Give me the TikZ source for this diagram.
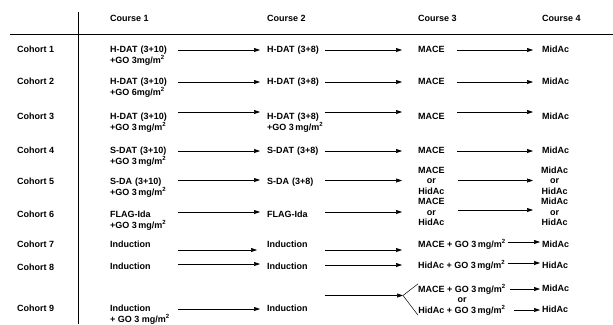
\documentclass[tikz,border=0pt]{standalone}
\usepackage{fontspec}
\setmainfont{Liberation Sans}
\usetikzlibrary{positioning,arrows.meta}

\begin{document}
\begin{tikzpicture}[
        x=1pt, y=-1pt,
        cell/.style={
            font=\bfseries\fontsize{9}{10.5}\selectfont,
            inner sep=0pt,
            anchor=west,
            text height=6.5pt,
            text depth=2pt
        },
        colA/.style={cell, text width=68pt, align=left},
        colB/.style={cell, text width=58pt, align=left},
        colC/.style={cell, text width=39pt, align=left},
        stack/.style={
            font=\bfseries\fontsize{9}{10.5}\selectfont,
            inner sep=0pt,
            anchor=west,
            align=center
        },
        goline/.style={cell, below right=2.5pt and 0pt of #1.south west},
        arr/.style={-{Triangle[length=6pt,width=4pt]}, line width=0.6pt},
        toB/.style={arr, shorten >=7pt},
        toC/.style={arr, shorten >=16pt},
        toD/.style={arr, shorten >=9pt}
    ]
        \useasboundingbox (0,0) rectangle (613,324);

        % table rules
        \draw[line width=0.6pt] (78,12) -- (78,324);
        \draw[line width=0.6pt] (10,34) -- (613,34);

        \node[cell] (t1) at (110,19) {Course 1};
        \node[cell] (t2) at (267,19) {Course 2};
        \node[cell] (t3) at (418,19) {Course 3};
        \node[cell] (t4) at (542,19) {Course 4};

        \node[cell] (h1) at (17,50) {Cohort 1};
        \node[cell] (h2) at (17,82) {Cohort 2};
        \node[cell] (h3) at (17,117) {Cohort 3};
        \node[cell] (h4) at (17,151) {Cohort 4};
        \node[cell] (h5) at (17,182) {Cohort 5};
        \node[cell] (h6) at (17,215) {Cohort 6};
        \node[cell] (h7) at (17,245) {Cohort 7};
        \node[cell] (h8) at (17,268) {Cohort 8};
        \node[cell] (h9) at (17,309) {Cohort 9};

        % course 1
        \node[colA] (a1) at (110,50) {H-DAT (3+10)};
        \node[goline=a1] (ga1) {+GO 3mg/m\textsuperscript{2}};
        \node[colA] (a2) at (110,82) {H-DAT (3+10)};
        \node[goline=a2] (ga2) {+GO 6mg/m\textsuperscript{2}};
        \node[colA] (a3) at (110,117) {H-DAT (3+10)};
        \node[goline=a3] (ga3) {+GO 3\,mg/m\textsuperscript{2}};
        \node[colA] (a4) at (110,151) {S-DAT (3+10)};
        \node[goline=a4] (ga4) {+GO 3\,mg/m\textsuperscript{2}};
        \node[colA] (a5) at (110,182) {S-DA (3+10)};
        \node[goline=a5] (ga5) {+GO 3\,mg/m\textsuperscript{2}};
        \node[colA] (a6) at (110,215) {FLAG-Ida};
        \node[goline=a6] (ga6) {+GO 3\,mg/m\textsuperscript{2}};
        \node[colA] (a7) at (110,245) {Induction};
        \node[colA] (a8) at (110,267) {Induction};
        \node[colA] (a9) at (110,309) {Induction};
        \node[goline=a9] (ga9) {+ GO 3 mg/m\textsuperscript{2}};

        % course 2
        \node[colB] (b1) at (267,50) {H-DAT (3+8)};
        \node[colB] (b2) at (267,82) {H-DAT (3+8)};
        \node[colB] (b3) at (267,117) {H-DAT (3+8)};
        \node[goline=b3] (gb3) {+GO 3\,mg/m\textsuperscript{2}};
        \node[colB] (b4) at (267,151) {S-DAT (3+8)};
        \node[colB] (b5) at (267,182) {S-DA (3+8)};
        \node[colB] (b6) at (267,215) {FLAG-Ida};
        \node[colB] (b7) at (267,245) {Induction};
        \node[colB] (b8) at (267,267) {Induction};
        \node[colB] (b9) at (267,309) {Induction};

        % course 3
        \node[colC] (c1) at (418,50) {MACE};
        \node[colC] (c2) at (418,82) {MACE};
        \node[colC] (c3) at (418,117) {MACE};
        \node[colC] (c4) at (418,151) {MACE};
        \node[stack] (c5) at (418,180.5) {MACE\\or\\HidAc};
        \node[stack] (c6) at (418,212) {MACE\\or\\HidAc};
        \node[cell] (c7) at (418,245) {MACE + GO 3\,mg/m\textsuperscript{2}};
        \node[cell] (c8) at (418,266) {HidAc + GO 3\,mg/m\textsuperscript{2}};
        \node[stack] (c9) at (418,299.5) {MACE + GO 3\,mg/m\textsuperscript{2}\\or\\HidAc + GO 3\,mg/m\textsuperscript{2}};

        % course 4
        \node[cell] (d1) at (542,50) {MidAc};
        \node[cell] (d2) at (542,82) {MidAc};
        \node[cell] (d3) at (542,117) {MidAc};
        \node[cell] (d4) at (542,151) {MidAc};
        \node[stack] (d5) at (541,180.5) {MidAc\\or\\HidAc};
        \node[stack] (d6) at (541,212) {MidAc\\or\\HidAc};
        \node[cell] (d7) at (542,245) {MidAc};
        \node[cell] (d8) at (542,266) {HidAc};
        \node[cell] (d9a) at (542,289) {MidAc};
        \node[cell] (d9b) at (542,310) {HidAc};

        \coordinate (split) at ([xshift=-15pt,yshift=4pt]c9.west);

        \draw[toB] (a1.east) -- (b1.west);
        \draw[toB] (a2.east) -- (b2.west);
        \draw[toB] ([yshift=5pt]a3.east) -- ([yshift=5pt]b3.west);
        \draw[toB] (a4.east) -- (b4.west);
        \draw[toB] ([yshift=2pt]a5.east) -- ([yshift=2pt]b5.west);
        \draw[toB] ([yshift=3pt]a6.east) -- ([yshift=3pt]b6.west);
        \draw[toB, shorten >=10pt] ([yshift=-5pt]a7.east) -- ([yshift=-5pt]b7.west);
        \draw[toB] ([yshift=3pt]a8.east) -- ([yshift=3pt]b8.west);
        \draw[toB] (a9.east) -- (b9.west);

        \draw[toC] (b1.east) -- (c1.west);
        \draw[toC] (b2.east) -- (c2.west);
        \draw[toC] ([yshift=5pt]b3.east) -- ([yshift=5pt]c3.west);
        \draw[toC] (b4.east) -- (c4.west);
        \draw[toC] (b5.east |- c5.west) -- (c5.west);
        \draw[toC] (b6.east |- c6.west) -- (c6.west);
        \draw[toC] ([yshift=-5pt]b7.east) -- ([yshift=-5pt]b7.east -| c7.west);
        \draw[toC] ([yshift=2pt]b8.east) -- ([yshift=2pt]b8.east -| c8.west);
        \draw[arr] (b9.east |- split) -- (split);
        \draw[line width=0.5pt] (split) -- (c9.north west);
        \draw[line width=0.5pt] (split) -- (c9.south west);

        \draw[toD] (c1.east) -- (d1.west);
        \draw[toD] (c2.east) -- (d2.west);
        \draw[toD] ([yshift=5pt]c3.east) -- ([yshift=5pt]d3.west);
        \draw[toD] (c4.east) -- (d4.west);
        \draw[toD, shorten <=13pt, shorten >=8pt] (c5.east) -- (d5.west);
        \draw[toD, shorten <=13pt, shorten >=8pt] ([yshift=2pt]c6.east) -- ([yshift=2pt]d6.west);
        \draw[arr, shorten <=2pt, shorten >=2pt] ([yshift=3pt]c7.east) -- ([yshift=3pt]d7.west);
        \draw[arr, shorten <=2pt, shorten >=2pt] ([yshift=3pt]c8.east) -- ([yshift=3pt]d8.west);
        \draw[arr, shorten <=4pt, shorten >=2pt] (c9.east |- d9a.west) -- (d9a.west);
        \draw[arr, shorten <=8pt, shorten >=2pt] (c9.east |- d9b.west) -- (d9b.west);
    \end{tikzpicture}
\end{document}
